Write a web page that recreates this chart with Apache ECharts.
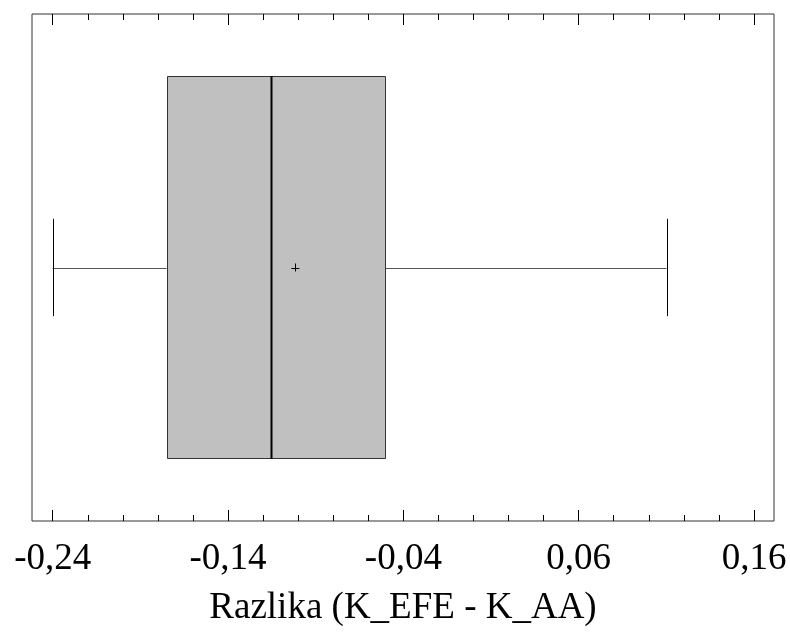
<!DOCTYPE html>
<html>
<head>
<meta charset="utf-8">
<script src="https://cdn.jsdelivr.net/npm/echarts@6/dist/echarts.min.js"></script>
<style>
html,body{margin:0;padding:0;background:#fff}
#chartmain{width:790px;height:639px}
</style>
</head>
<body>
<div id="chartmain"></div>
<script>
// tick positions on the value axis
var majorTicks = [-0.24, -0.14, -0.04, 0.06, 0.16];
var minorTicks = [-0.22, -0.20, -0.18, -0.16, -0.12, -0.10, -0.08, -0.06,
                  -0.02, 0.00, 0.02, 0.04, 0.08, 0.10, 0.12, 0.14];
// box plot stats: min, Q1, median, Q3, max
var boxStats = [-0.240, -0.175, -0.1153, -0.0505, 0.1101];
var meanValue = -0.1016;
var axisTitle = 'Razlika (K_EFE - K_AA)';

var xMin = -0.2518, xMax = 0.1714;
var serif = 'Liberation Serif, Times New Roman, serif';

function tickAxis(pos, values, len, withLabel){
	var ax = {
		type: 'value',
		position: pos,
		offset: 0,
		min: xMin,
		max: xMax,
		axisLine: {show: false},
		splitLine: {show: false},
		axisTick: {show: true, inside: true, length: len, customValues: values,
			lineStyle: {color: '#000', width: 1}},
		axisLabel: {show: false}
	};
	if(withLabel){
		ax.axisLabel = {
			show: true,
			customValues: values,
			margin: 20,
			color: '#000',
			fontFamily: serif,
			fontSize: 37,
			formatter: function(v){ return v.toFixed(2).replace('.', ','); }
		};
		ax.name = axisTitle;
		ax.nameLocation = 'middle';
		ax.nameGap = 69;
		ax.nameTextStyle = {color: '#000', fontFamily: serif, fontSize: 37};
	}
	return ax;
}

function crisp(v){ return Math.round(v) + 0.5; }

var myChart = echarts.init(document.getElementById('chartmain'));
myChart.setOption({
	animation: false,
	backgroundColor: '#fff',
	grid: {
		left: 32, right: 16, top: 14, bottom: 118,
		show: true, borderColor: '#333', borderWidth: 1,
		outerBoundsMode: 'none'
	},
	xAxis: [
		tickAxis('bottom', majorTicks, 11, true),
		tickAxis('bottom', minorTicks, 6, false),
		tickAxis('top', majorTicks, 11, false),
		tickAxis('top', minorTicks, 6, false)
	],
	yAxis: {type: 'value', min: 0, max: 1, show: false},
	series: [{
		type: 'custom',
		xAxisIndex: 0,
		data: [boxStats.concat([meanValue])],
		renderItem: function(params, api){
			var yMid = api.coord([0, 0.5])[1];
			var h = api.size([0, 1])[1];
			var boxHalf = h * 0.377, capHalf = h * 0.096;
			var px = [];
			for(var i = 0; i < 6; i++){ px.push(api.coord([api.value(i), 0.5])[0]); }
			var yc = crisp(yMid);
			return {type: 'group', children: [
				{type: 'line', shape: {x1: px[0], y1: yc, x2: px[1], y2: yc},
					style: {stroke: '#555', lineWidth: 1}},
				{type: 'line', shape: {x1: px[3], y1: yc, x2: px[4], y2: yc},
					style: {stroke: '#555', lineWidth: 1}},
				{type: 'line', shape: {x1: crisp(px[0]), y1: yMid - capHalf, x2: crisp(px[0]), y2: yMid + capHalf},
					style: {stroke: '#000', lineWidth: 1}},
				{type: 'line', shape: {x1: crisp(px[4]), y1: yMid - capHalf, x2: crisp(px[4]), y2: yMid + capHalf},
					style: {stroke: '#000', lineWidth: 1}},
				{type: 'rect', shape: {x: crisp(px[1]), y: crisp(yMid - boxHalf),
						width: Math.round(px[3] - px[1]), height: Math.round(boxHalf * 2)},
					style: {fill: '#c0c0c0', stroke: '#333', lineWidth: 1}},
				{type: 'line', shape: {x1: crisp(px[2]), y1: yMid - boxHalf, x2: crisp(px[2]), y2: yMid + boxHalf},
					style: {stroke: '#000', lineWidth: 2}},
				{type: 'line', shape: {x1: px[5] - 4, y1: yc, x2: px[5] + 4, y2: yc},
					style: {stroke: '#000', lineWidth: 1}},
				{type: 'line', shape: {x1: crisp(px[5]), y1: yMid - 4, x2: crisp(px[5]), y2: yMid + 4},
					style: {stroke: '#000', lineWidth: 1}}
			]};
		}
	}]
});
</script>
</body>
</html>
